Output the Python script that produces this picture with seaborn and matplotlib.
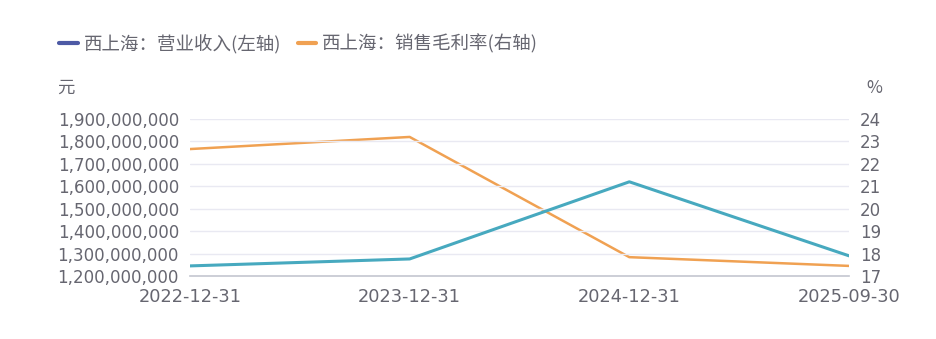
import matplotlib
matplotlib.use("Agg")
import matplotlib.pyplot as plt
from matplotlib.lines import Line2D
from matplotlib.ticker import FuncFormatter, MultipleLocator
import seaborn as sns
import pandas as pd

sns.set_theme(style="white")
plt.rcParams['font.family'] = ['Noto Sans CJK SC', 'DejaVu Sans']

dates = ["2022-12-31", "2023-12-31", "2024-12-31", "2025-09-30"]
revenue = [1245000000, 1276000000, 1620000000, 1290000000]
margin = [22.66, 23.2, 17.84, 17.45]
rev_label = "西上海：营业收入(左轴)"
margin_label = "西上海：销售毛利率(右轴)"

TEXT = "#666670"
TEAL = "#47a9bf"
NAVY = "#4d5aa5"
ORANGE = "#f0a152"
GRID = "#e9e9f2"

df = pd.DataFrame({"date": dates, "revenue": revenue, "margin": margin})
df["pos"] = range(len(dates))

fig = plt.figure(figsize=(9.37, 3.39), dpi=100)
ax = fig.add_axes([190/937, 1-276/339, (849-190)/937, (276-119)/339])
ax2 = ax.twinx()

sns.lineplot(data=df, x="pos", y="revenue", ax=ax, color=TEAL, linewidth=2.2, legend=False)
sns.lineplot(data=df, x="pos", y="margin", ax=ax2, color=ORANGE, linewidth=1.8, legend=False)
ax.set_zorder(ax2.get_zorder() + 1)
ax.patch.set_visible(False)

ax.set_xlim(0, 3)
ax.set_ylim(1200000000, 1900000000)
ax.yaxis.set_major_locator(MultipleLocator(100000000))
ax.yaxis.set_major_formatter(FuncFormatter(lambda v, p: f"{int(round(v)):,}"))
ax2.set_ylim(17, 24)
ax2.yaxis.set_major_locator(MultipleLocator(1))

ax.set_xticks(range(len(dates)))
ax.set_xticklabels(dates)
ax.set_xlabel("")
ax.set_ylabel("")
ax2.set_ylabel("")

for a in (ax, ax2):
    for s in a.spines.values():
        s.set_visible(False)
    a.tick_params(length=0, colors=TEXT)
for lab in ax.get_yticklabels() + ax2.get_yticklabels():
    lab.set_fontfamily("DejaVu Sans")
    lab.set_fontsize(12)
for lab in ax.get_xticklabels():
    lab.set_fontfamily("DejaVu Sans")
    lab.set_fontsize(12.8)
ax.tick_params(axis="y", pad=8)
ax2.tick_params(axis="y", pad=8)
ax.tick_params(axis="x", pad=9)
ax.spines["bottom"].set_visible(True)
ax.spines["bottom"].set_color("#c4c6d0")
ax.spines["bottom"].set_linewidth(1.2)

ax2.grid(False)
ax.grid(False)
for v in range(1200000000, 1900000001, 100000000):
    if v > 1200000000:
        ax.axhline(v, color=GRID, linewidth=1.0, zorder=0)

fig.text(57/937, 1-88/339, "元", color=TEXT, fontsize=12.5, va="center", ha="left")
fig.text(874/937, 1-88/339, "%", color=TEXT, fontsize=12.5, va="center", ha="center")

handles = [Line2D([0], [0], color=NAVY, linewidth=3),
           Line2D([0], [0], color=ORANGE, linewidth=3)]
fig.legend(handles, [rev_label, margin_label], loc="center left",
           bbox_to_anchor=(52/937, 1-44/339), ncol=2, frameon=False,
           fontsize=13.3, labelcolor=TEXT, handlelength=1.0, handletextpad=0.3,
           columnspacing=0.9, borderaxespad=0)

fig.savefig("out.png", dpi=100)
